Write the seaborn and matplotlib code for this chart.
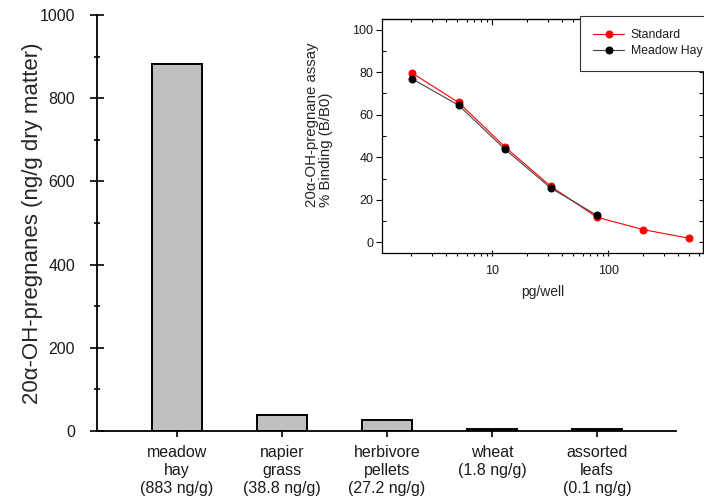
# 20a-OH-pregnanes in feed samples, with the assay binding curve as an inset
import pandas as pd
import seaborn as sns
import matplotlib.pyplot as plt
from matplotlib.ticker import MultipleLocator, LogLocator, FuncFormatter, NullFormatter

# bar chart data
samples = ['meadow\nhay\n(883 ng/g)', 'napier\ngrass\n(38.8 ng/g)', 'herbivore\npellets\n(27.2 ng/g)',
           'wheat\n(1.8 ng/g)\n', 'assorted\nleafs\n(0.1 ng/g)']
pregnanes = [883, 38.8, 27.2, 5, 5]

# inset binding curves
pg_well = [2.048, 5.12, 12.8, 32, 80, 200, 500]
standard_binding = [79.5, 65.8, 45.0, 26.3, 11.8, 6.0, 1.9]
hay_pg_well = [2.048, 5.12, 12.8, 32, 80]
hay_binding = [76.8, 64.5, 43.9, 25.5, 12.7]

sns.set_style('ticks')
plt.rcParams['font.family'] = ['Liberation Sans', 'DejaVu Sans']
plt.rcParams['text.color'] = '#1a1a1a'
plt.rcParams['xtick.color'] = 'black'
plt.rcParams['ytick.color'] = 'black'
plt.rcParams['xtick.labelcolor'] = '#1a1a1a'
plt.rcParams['ytick.labelcolor'] = '#1a1a1a'
plt.rcParams['axes.edgecolor'] = 'black'

fig = plt.figure(figsize=(7.04, 4.99), dpi=100)

# main bar chart
ax = fig.add_axes([97 / 704, 68 / 499, 579 / 704, 416 / 499])
bars = pd.DataFrame({'sample': samples, 'value': pregnanes})
sns.barplot(data=bars, x='sample', y='value', color='#c0c0c0', edgecolor='black',
            linewidth=1.4, width=0.48, saturation=1, ax=ax)
ax.set_xlim(-0.76, 4.75)
ax.set_ylim(0, 1000)
ax.yaxis.set_major_locator(MultipleLocator(200))
ax.yaxis.set_minor_locator(MultipleLocator(100))
ax.set_xlabel('')
ax.set_ylabel('20α-OH-pregnanes (ng/g dry matter)', fontsize=16)
ax.yaxis.set_label_coords(-0.093, 0.5)
sns.despine(ax=ax)
for s in ['left', 'bottom']:
    ax.spines[s].set_linewidth(1.3)
ax.tick_params(axis='y', which='major', direction='inout', length=9.5, width=1.2,
               labelsize=11.5, pad=11)
ax.tick_params(axis='y', which='minor', direction='inout', length=5, width=1.2)
ax.tick_params(axis='x', which='major', direction='out', length=4, width=1.2,
               labelsize=11.5, pad=6)
for lab in ax.get_xticklabels():
    lab.set_linespacing(1.25)
    lab.set_verticalalignment('top')

# inset: assay binding curve
ins = fig.add_axes([381.7 / 704, 246 / 499, 321.3 / 704, 234 / 499])
sns.lineplot(x=pg_well, y=standard_binding, ax=ins, color='red', linewidth=0.8,
             marker='o', markersize=5, markerfacecolor='red', markeredgecolor='red',
             label='Standard')
sns.lineplot(x=hay_pg_well, y=hay_binding, ax=ins, color='#444444', linewidth=0.8,
             marker='o', markersize=5, markerfacecolor='black', markeredgecolor='black',
             label='Meadow Hay')
ins.set_xscale('log')
ins.set_xlim(1.115, 655)
ins.set_ylim(-5, 105)
ins.yaxis.set_major_locator(MultipleLocator(20))
ins.yaxis.set_minor_locator(MultipleLocator(10))
ins.xaxis.set_major_locator(LogLocator(base=10))
ins.xaxis.set_minor_locator(LogLocator(base=10, subs=range(2, 10)))
ins.xaxis.set_major_formatter(FuncFormatter(lambda v, p: f'{v:g}'))
ins.xaxis.set_minor_formatter(NullFormatter())
ins.set_xlabel('pg/well', fontsize=10, labelpad=6)
ins.set_ylabel('20α-OH-pregnane assay\n% Binding (B/B0)', fontsize=10.8)
ylab = ins.yaxis.label
ylab.set_horizontalalignment('left')
ylab.set_multialignment('left')
ylab.set_linespacing(1.0)
ins.yaxis.set_label_coords(-0.152, 0.197)
for s in ins.spines.values():
    s.set_linewidth(0.9)
ins.tick_params(axis='y', which='major', direction='out', length=4, width=0.8,
                labelsize=9, pad=2)
ins.tick_params(axis='y', which='minor', direction='in', length=3, width=0.8)
ins.tick_params(axis='x', which='major', direction='inout', length=5, width=0.8,
                labelsize=9, pad=6)
ins.tick_params(axis='x', which='minor', direction='out', length=2.5, width=0.8)

# inward ticks on the top and right edges of the inset
top = ins.secondary_xaxis('top')
top.xaxis.set_major_locator(LogLocator(base=10))
top.xaxis.set_minor_locator(LogLocator(base=10, subs=range(2, 10)))
top.tick_params(which='both', direction='in', labeltop=False, width=0.8)
top.tick_params(which='major', length=4)
top.tick_params(which='minor', length=2.5)
right = ins.secondary_yaxis('right')
right.yaxis.set_major_locator(MultipleLocator(20))
right.yaxis.set_minor_locator(MultipleLocator(10))
right.tick_params(which='both', direction='in', labelright=False, width=0.8, length=3)

leg = ins.legend(loc='upper left', bbox_to_anchor=(580 / 704, 1 - 16 / 499),
                 bbox_transform=fig.transFigure, borderaxespad=0, fontsize=8.8,
                 frameon=True, fancybox=False, framealpha=1, edgecolor='#333333',
                 handlelength=2.5, handletextpad=0.55, borderpad=1.1, labelspacing=0.3)
leg.get_frame().set_linewidth(0.8)
leg.set_zorder(10)

fig.savefig('out.png', dpi=100)
